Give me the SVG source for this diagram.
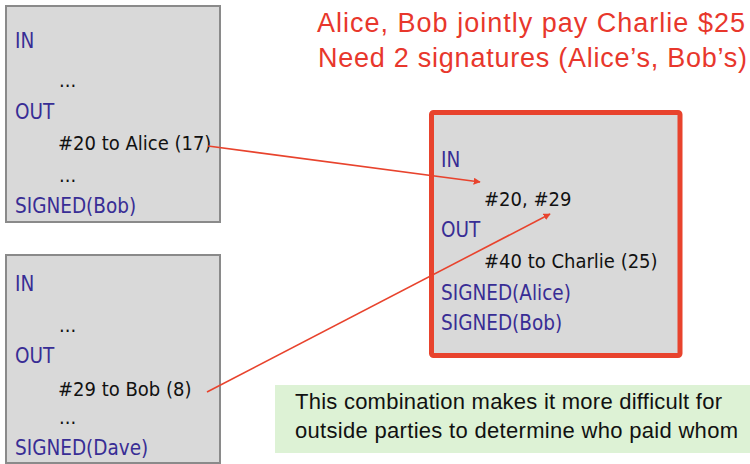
<svg xmlns="http://www.w3.org/2000/svg" width="750" height="464" viewBox="0 0 750 464">
  <style>
    .tx { fill: #d9d9d9; stroke: #8a8a8a; stroke-width: 2; }
    .joint { fill: #d9d9d9; stroke: #e8432d; stroke-width: 5; }
    .kw { font-family: "DejaVu Sans Condensed", "DejaVu Sans", sans-serif; font-size: 20.5px; fill: #382d95; }
    .val { font-family: "DejaVu Sans Condensed", "DejaVu Sans", sans-serif; font-size: 20px; fill: #111111; }
    .title { font-family: "Liberation Sans", Arial, sans-serif; font-size: 27px; fill: #e8372c; }
    .note { font-family: "Liberation Sans", Arial, sans-serif; font-size: 22px; fill: #111111; }
    .link { stroke: #e8432d; stroke-width: 1.6; fill: none; marker-end: url(#arrow); }
  </style>
  <defs>
    <marker id="arrow" viewBox="0 0 10 10" refX="9" refY="5" markerWidth="7" markerHeight="7" markerUnits="userSpaceOnUse" orient="auto">
      <path d="M0,0 L10,5 L0,10 z" fill="#e8432d"/>
    </marker>
  </defs>

  <rect width="750" height="464" fill="#ffffff"/>

  <!-- Bob's earlier transaction -->
  <g id="tx-bob">
    <rect class="tx" x="6" y="6" width="214" height="216"/>
    <text class="kw" x="15" y="48">IN</text>
    <text class="val" x="59" y="87">...</text>
    <text class="kw" x="15" y="119">OUT</text>
    <text class="val" x="58" y="150">#20 to Alice (17)</text>
    <text class="val" x="59" y="182">...</text>
    <text class="kw" x="15" y="213">SIGNED(Bob)</text>
  </g>

  <!-- Dave's earlier transaction -->
  <g id="tx-dave">
    <rect class="tx" x="6" y="255" width="214" height="208"/>
    <text class="kw" x="15" y="291">IN</text>
    <text class="val" x="59" y="332">...</text>
    <text class="kw" x="15" y="363">OUT</text>
    <text class="val" x="58" y="396">#29 to Bob (8)</text>
    <text class="val" x="59" y="424">...</text>
    <text class="kw" x="15" y="455">SIGNED(Dave)</text>
  </g>

  <!-- Joint payment transaction -->
  <g id="tx-joint">
    <rect class="joint" x="431.5" y="112.5" width="248.5" height="243" rx="2"/>
    <text class="kw" x="441" y="167">IN</text>
    <text class="val" x="484" y="206">#20, #29</text>
    <text class="kw" x="441" y="237">OUT</text>
    <text class="val" x="484" y="268">#40 to Charlie (25)</text>
    <text class="kw" x="441" y="300">SIGNED(Alice)</text>
    <text class="kw" x="441" y="330">SIGNED(Bob)</text>
  </g>

  <!-- Heading -->
  <g id="heading">
    <text class="title" x="317" y="32" textLength="428" lengthAdjust="spacing">Alice, Bob jointly pay Charlie $25</text>
    <text class="title" x="318" y="67" textLength="429" lengthAdjust="spacing">Need 2 signatures (Alice’s, Bob’s)</text>
  </g>

  <!-- Note -->
  <g id="note">
    <rect x="275" y="385" width="475" height="68" fill="#ddf2d5"/>
    <text class="note" x="295" y="409" textLength="427" lengthAdjust="spacing">This combination makes it more difficult for</text>
    <text class="note" x="295" y="438" textLength="443" lengthAdjust="spacing">outside parties to determine who paid whom</text>
  </g>

  <!-- Connectors -->
  <g id="connectors">
    <line class="link" x1="208" y1="146" x2="480" y2="182"/>
    <line class="link" x1="207" y1="392" x2="550" y2="214"/>
  </g>
</svg>
